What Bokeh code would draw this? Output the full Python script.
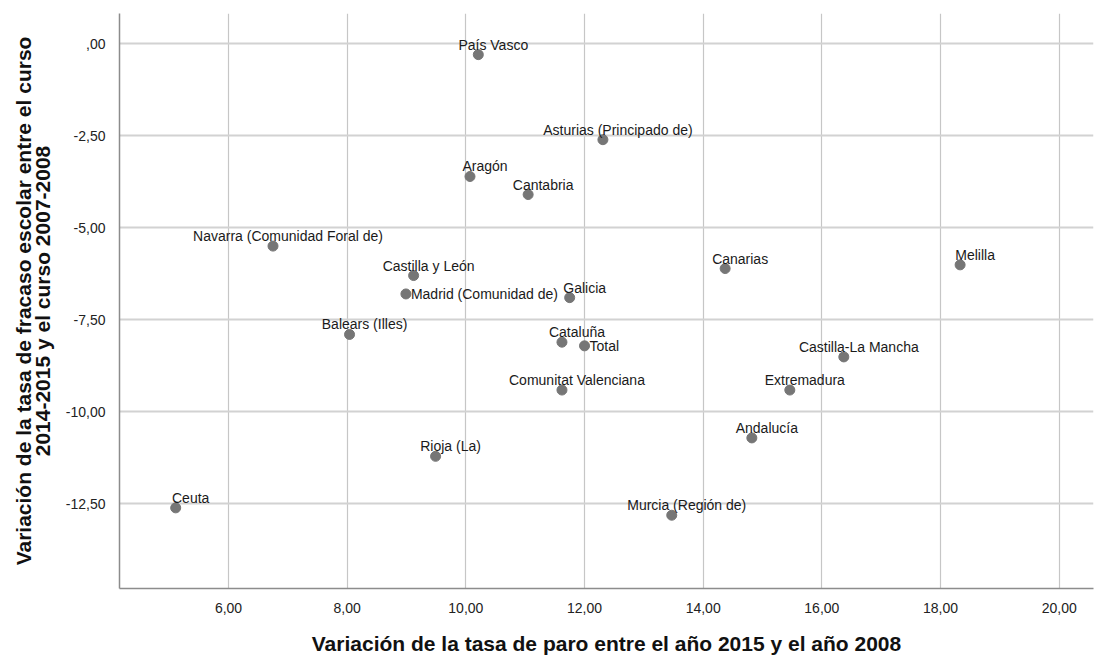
from bokeh.plotting import figure
from bokeh.models import Range1d, FixedTicker, ColumnDataSource, CustomJSTickFormatter
from bokeh.core.properties import value
from bokeh.embed import file_html
from bokeh.resources import INLINE

regions = ["País Vasco", "Asturias (Principado de)", "Aragón", "Cantabria",
           "Navarra (Comunidad Foral de)", "Castilla y León", "Madrid (Comunidad de)",
           "Galicia", "Canarias", "Melilla", "Balears (Illes)", "Cataluña", "Total",
           "Comunitat Valenciana", "Rioja (La)", "Ceuta", "Castilla-La Mancha",
           "Extremadura", "Andalucía", "Murcia (Región de)"]
paro = [10.21, 12.31, 10.07, 11.05, 6.75, 9.12, 8.99, 11.75, 14.37, 18.33,
        8.04, 11.62, 12.00, 11.62, 9.49, 5.11, 16.37, 15.46, 14.82, 13.47]
fracaso = [-0.30, -2.61, -3.61, -4.10, -5.50, -6.30, -6.80, -6.90, -6.11, -6.01,
           -7.90, -8.11, -8.21, -9.41, -11.21, -12.61, -8.51, -9.41, -10.71, -12.81]
side_labels = ["Madrid (Comunidad de)", "Total"]

x_ticks = [6, 8, 10, 12, 14, 16, 18, 20]
y_ticks = [0, -2.5, -5, -7.5, -10, -12.5]

x_title = "Variación de la tasa de paro entre el año 2015 y el año 2008"
y_title = "Variación de la tasa de fracaso escolar entre el curso\n2014-2015 y el curso 2007-2008"

FONT = "Liberation Sans"

p = figure(width=1094, height=657, output_backend="svg", toolbar_location=None,
           x_range=Range1d(4.163, 20.578), y_range=Range1d(-14.80, 0.817),
           min_border_left=119, min_border_right=1, min_border_top=13, min_border_bottom=65)
p.outline_line_color = None
p.background_fill_color = "white"
p.border_fill_color = "white"

for ax in (p.xaxis[0], p.yaxis[0]):
    ax.major_tick_line_color = None
    ax.minor_tick_line_color = None
    ax.axis_line_color = "#8c8c8c"
    ax.axis_line_width = 1.5
    ax.major_label_text_font = FONT
    ax.major_label_text_font_size = "14px"
    ax.major_label_text_color = "#222222"
    ax.axis_label_text_font = FONT
    ax.axis_label_text_font_size = "21px"
    ax.axis_label_text_font_style = "bold"
    ax.axis_label_text_color = "#111111"

p.xaxis[0].major_label_standoff = 8
p.yaxis[0].major_label_standoff = 8

fmt = CustomJSTickFormatter(code="""
    let s = tick.toFixed(2).replace('.', ',');
    if (s.startsWith('0,')) s = s.slice(1);
    if (s.startsWith('-0,')) s = '-' + s.slice(2);
    return s;
""")
p.xaxis[0].ticker = FixedTicker(ticks=x_ticks)
p.yaxis[0].ticker = FixedTicker(ticks=y_ticks)
p.xaxis[0].formatter = fmt
p.yaxis[0].formatter = fmt
p.xaxis[0].axis_label = x_title
p.xaxis[0].axis_label_standoff = 16
p.yaxis[0].axis_label = y_title
p.yaxis[0].axis_label_standoff = 9
p.yaxis[0].axis_label_text_line_height = 0.8

p.xgrid[0].ticker = FixedTicker(ticks=x_ticks)
p.ygrid[0].ticker = FixedTicker(ticks=y_ticks)
p.xgrid.grid_line_color = "#c6c6c6"
p.xgrid.grid_line_width = 1.2
p.ygrid.grid_line_color = "#d2d2d2"
p.ygrid.grid_line_width = 1.8

src = ColumnDataSource(dict(x=paro, y=fracaso, name=regions))
p.scatter("x", "y", source=src, size=10, fill_color="#767676", line_color="#767676")

top_idx = [i for i, r in enumerate(regions) if r not in side_labels]
side_idx = [i for i, r in enumerate(regions) if r in side_labels]
top_src = ColumnDataSource(dict(x=[paro[i] for i in top_idx], y=[fracaso[i] for i in top_idx],
                                name=[regions[i] for i in top_idx]))
side_src = ColumnDataSource(dict(x=[paro[i] for i in side_idx], y=[fracaso[i] for i in side_idx],
                                 name=[regions[i] for i in side_idx]))
p.text("x", "y", text="name", source=top_src, x_offset=15, y_offset=-10,
       text_align="center", text_baseline="alphabetic", text_font=value(FONT),
       text_font_size="14px", text_color="#1a1a1a")
p.text("x", "y", text="name", source=side_src, x_offset=5, y_offset=0,
       text_align="left", text_baseline="middle", text_font=value(FONT),
       text_font_size="14px", text_color="#1a1a1a")

open("out.html", "w").write(file_html(p, INLINE))
